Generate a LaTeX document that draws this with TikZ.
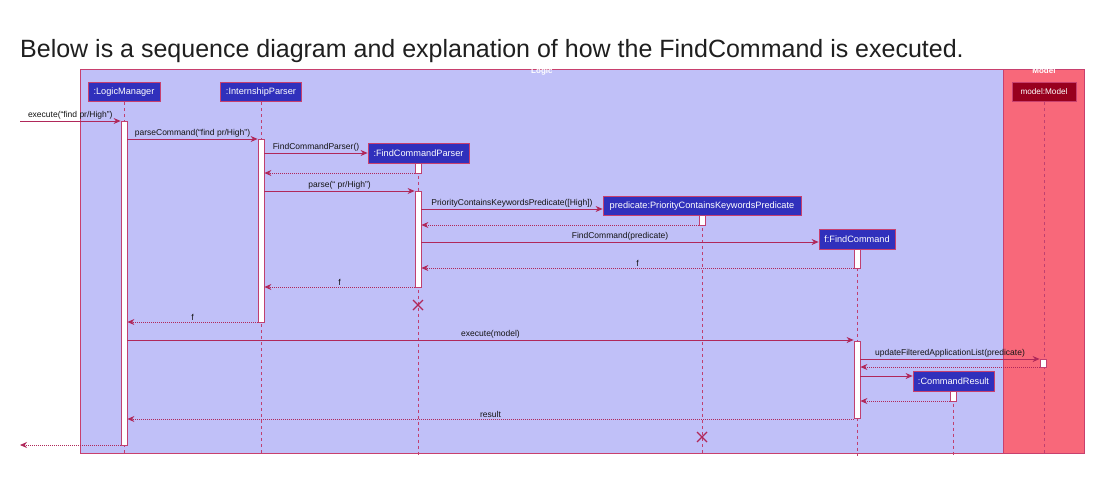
\documentclass[tikz,border=0pt]{standalone}
\usepackage{fontspec}
\setmainfont{Liberation Sans}
\usetikzlibrary{arrows.meta}
\definecolor{logicbg}{HTML}{C0C0F8}
\definecolor{modelbg}{HTML}{F8687A}
\definecolor{framec}{HTML}{C8406E}
\definecolor{partbg}{HTML}{3030BC}
\definecolor{modelpart}{HTML}{98001E}
\definecolor{arrc}{HTML}{B0285A}
\definecolor{lifec}{HTML}{C04070}
\definecolor{lblc}{HTML}{141414}
\tikzset{
  framebox/.style={draw=framec, line width=0.8, anchor=north west, inner sep=0},
  framelbl/.style={text=white, font=\bfseries\fontsize{8}{9}\selectfont, anchor=north, inner sep=0},
  part/.style={draw=framec, line width=0.8, fill=partbg, text=white, inner sep=0,
    font=\fontsize{9.2}{10}\selectfont, minimum height=19.5},
  life/.style={draw=lifec, line width=0.7, dash pattern=on 3 off 3},
  act/.style={draw=lifec, fill=white, line width=0.8, minimum width=6, inner sep=0},
  msg/.style={draw=arrc, line width=0.8, -{Stealth[length=7,width=6]}},
  ret/.style={draw=arrc, line width=0.8, dash pattern=on 1 off 1, -{Stealth[length=7,width=6]}},
  lbl/.style={midway, above=0.8, text=lblc, inner sep=0.5, font=\fontsize{8.5}{9}\selectfont},
  destroy/.style={draw=arrc, line width=1.2}
}
\begin{document}
\begin{tikzpicture}[x=1pt,y=-1pt]
\useasboundingbox (0,0) rectangle (1107,480);
\fill[white] (0,0) rectangle (1107,480);

\node[anchor=base west, inner sep=0, font=\fontsize{25}{30}\selectfont, text=black!88] (title) at (20,57)
  {Below is a sequence diagram and explanation of how the FindCommand is executed.};

% frames
\node[framebox, fill=logicbg, minimum width=923, minimum height=384] (logic) at (80,69) {};
\node[framebox, fill=modelbg, minimum width=81, minimum height=384] (model) at (1003,69) {};
\node[framelbl] (logiclbl) at ([yshift=1.5]logic.north) {Logic};
\node[framelbl] (modellbl) at ([yshift=1.5]model.north) {Model};

% participants
\node[part, minimum width=72] (pLM) at (124,92) {:LogicManager};
\node[part, minimum width=81] (pIP) at (261,92) {:InternshipParser};
\node[part, minimum width=101] (pFCP) at (418.5,153.5) {:FindCommandParser};
\node[part, minimum width=198] (pPr) at (702,206) {predicate:PriorityContainsKeywordsPredicate};
\node[part, minimum width=76] (pFC) at (857,239.5) {f:FindCommand};
\node[part, minimum width=81] (pCR) at (953.5,381.5) {:CommandResult};
\node[part, minimum width=64, fill=modelpart, font=\fontsize{8.2}{9}\selectfont] (pM) at (1044,92) {model:Model};

% lifelines
\foreach \p in {pLM,pIP,pFCP,pPr,pFC,pCR,pM}
  \draw[life] (\p.south) -- (\p.south |- 0,456);
\draw[framec, line width=0.8] (80,453) -- (1084,453);

% activations
\node[act, minimum height=324] (aLM) at (124,283) {};
\node[act, minimum height=183] (aIP) at (261,230.5) {};
\node[act, minimum height=10] (aFP1) at (418,168) {};
\node[act, minimum height=96] (aFP2) at (418,239) {};
\node[act, minimum height=10] (aPr) at (702,220) {};
\node[act, minimum height=19] (aFC1) at (857,258.5) {};
\node[act, minimum height=77] (aFC2) at (857,379.5) {};
\node[act, minimum height=8] (aM) at (1043,363) {};
\node[act, minimum height=10] (aCR) at (953,396) {};

% free ends
\coordinate (in) at (20,121);
\coordinate (out) at (20,445);

% messages
\draw[msg] (in) -- (aLM.west |- 0,121) node[lbl] {execute(“find pr/High”)};
\draw[msg] (aLM.east |- 0,139) -- (aIP.west |- 0,139) node[lbl] {parseCommand(“find pr/High”)};
\draw[msg] (aIP.east |- 0,153) -- (pFCP.west |- 0,153) node[lbl] {FindCommandParser()};
\draw[ret] (aFP1.west |- 0,173) -- (aIP.east |- 0,173);
\draw[msg] (aIP.east |- 0,191) -- (aFP2.west |- 0,191) node[lbl] {parse(“ pr/High”)};
\draw[msg] (aFP2.east |- 0,209) -- (pPr.west |- 0,209) node[lbl] {PriorityContainsKeywordsPredicate([High])};
\draw[ret] (aPr.west |- 0,225) -- (aFP2.east |- 0,225);
\draw[msg] (aFP2.east |- 0,242) -- (pFC.west |- 0,242) node[lbl] {FindCommand(predicate)};
\draw[ret] (aFC1.west |- 0,268) -- (aFP2.east |- 0,268) node[lbl] {f};
\draw[ret] (aFP2.west |- 0,287) -- (aIP.east |- 0,287) node[lbl] {f};
\draw[destroy] (413,300) -- (423,310) (413,310) -- (423,300);
\draw[ret] (aIP.west |- 0,322) -- (aLM.east |- 0,322) node[lbl] {f};
\draw[msg] (aLM.east |- 0,340) -- (aFC2.west |- 0,340) node[lbl] {execute(model)};
\draw[msg] (aFC2.east |- 0,359) -- (aM.west |- 0,359) node[lbl] {updateFilteredApplicationList(predicate)};
\draw[ret] (aM.west |- 0,367) -- (aFC2.east |- 0,367);
\draw[msg] (aFC2.east |- 0,376) -- (pCR.west |- 0,376);
\draw[ret] (aCR.west |- 0,401) -- (aFC2.east |- 0,401);
\draw[ret] (aFC2.west |- 0,419) -- (aLM.east |- 0,419) node[lbl] {result};
\draw[destroy] (697,432) -- (707,442) (697,442) -- (707,432);
\draw[ret] (aLM.west |- 0,445) -- (out);
\end{tikzpicture}
\end{document}
